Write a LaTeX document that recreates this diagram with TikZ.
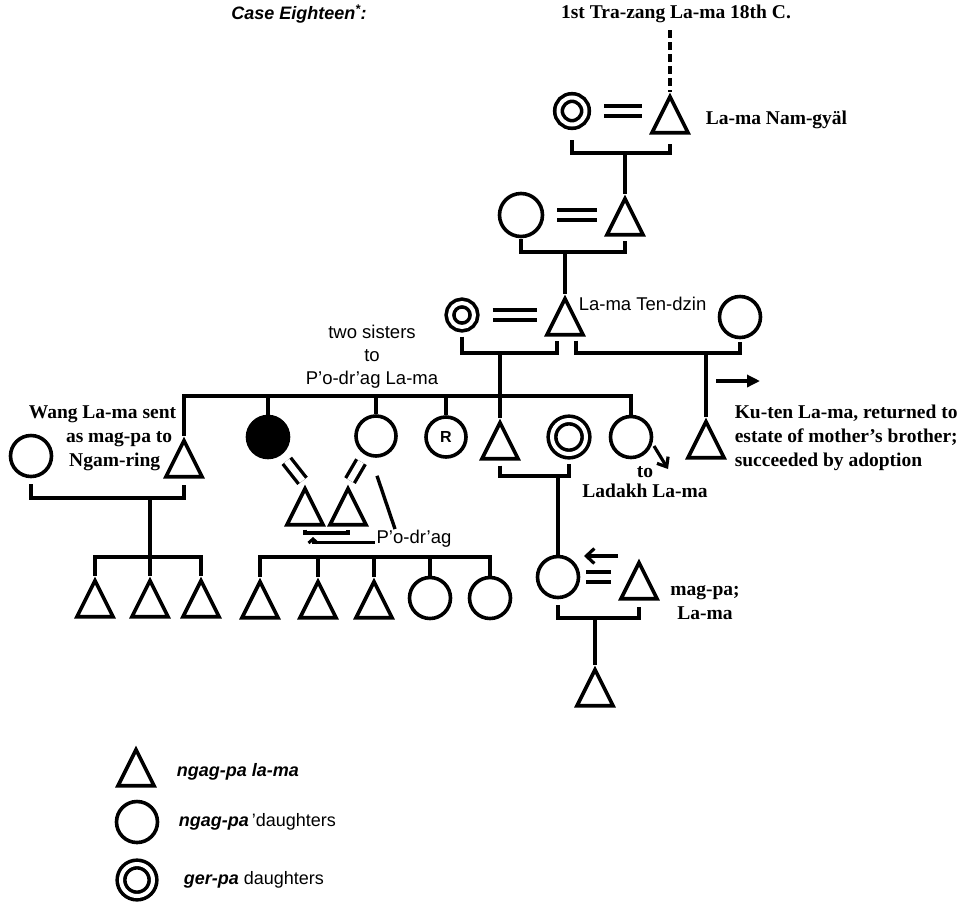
\documentclass[tikz,border=0pt]{standalone}
\usepackage{fontspec}
\setmainfont{Liberation Serif}
\setsansfont{Liberation Sans}
\usetikzlibrary{shapes.geometric,arrows.meta}

\tikzset{
  lama/.style={draw, isosceles triangle, shape border rotate=90,
    isosceles triangle stretches, minimum width=36pt, minimum height=36pt,
    inner sep=0pt, anchor=apex},
  dau/.style={draw, circle, minimum size=41pt, inner sep=0pt},
  gerdau/.style={draw, circle, double, double distance=4pt,
    minimum size=29pt, inner sep=0pt, outer sep=5.6pt},
  wed/.style={double, double distance=6.5pt, line width=3.8pt,
    shorten <=13pt, shorten >=13pt},
  lbl/.style={font=\fontsize{19.5}{24}\selectfont\bfseries, inner sep=0pt},
  sans/.style={font=\sffamily\fontsize{18.5}{23}\selectfont, inner sep=0pt},
  key/.style={font=\sffamily\fontsize{18}{20}\selectfont, anchor=west, inner sep=0pt},
}

\begin{document}
\begin{tikzpicture}[x=1pt, y=-1pt, line width=3.6pt]
\useasboundingbox (0,0) rectangle (973,903);

      % levels of the connecting lines
      \coordinate (lvA) at (0,153);
      \coordinate (lvB) at (0,252);
      \coordinate (lvC) at (0,353);
      \coordinate (sib) at (0,396);
      \coordinate (lvD) at (0,476);
      \coordinate (lvW) at (0,498);
      \coordinate (lvP) at (0,533);
      \coordinate (kids) at (0,557);
      \coordinate (lvE) at (0,618);

      % free ends of the arrows
      \coordinate (dashtop) at (670,30);
      \coordinate (kuA) at (716,381);
      \coordinate (kuB) at (760,381);
      \coordinate (ladA) at (654,446);
      \coordinate (ladB) at (668,469);
      \coordinate (heirA) at (618,556);
      \coordinate (heirB) at (584,556);

      % persons
      \node[gerdau, minimum size=27pt] (namwife) at (572,111) {};
      \node[lama] (namgyal) at (670,92) {};
      \node[dau, minimum size=43pt] (sonwife) at (521,215) {};
      \node[lama] (son) at (625,194) {};
      \node[gerdau, minimum size=24pt] (tdwifeA) at (462,315) {};
      \node[lama] (tendzin) at (565,294) {};
      \node[dau] (tdwifeB) at (740,317) {};

      \node[dau] (wangwife) at (31,456) {};
      \node[lama] (wang) at (184,436) {};
      \node[dau, fill=black] (sisA) at (268,437) {};
      \node[dau, minimum size=40pt] (sisB) at (376,436) {};
      \node[dau, minimum size=40pt, font=\sffamily\bfseries\fontsize{16}{16}\selectfont] (sisR) at (446,437) {R};
      \node[lama] (bro) at (500,418) {};
      \node[gerdau, minimum size=34pt] (gersis) at (569,437) {};
      \node[dau] (ladsis) at (631,437) {};
      \node[lama] (kuten) at (706,417) {};

      \node[lama] (podA) at (305,484) {};
      \node[lama] (podB) at (348,484) {};
      \node[dau] (heir) at (558,577) {};
      \node[lama] (magpa) at (639,558) {};
      \node[lama] (grandson) at (595,665) {};
      \foreach \x [count=\i] in {95,150,201}
        \node[lama] (wkid\i) at (\x,576) {};
      \foreach \x [count=\i] in {260,318,374}
        \node[lama] (pkid\i) at (\x,577) {};
      \foreach \x [count=\i] in {430,490}
        \node[dau] (pdau\i) at (\x,598) {};

      % marriages
      \draw[wed] (namwife.east) -- (namwife.east -| namgyal.west);
      \draw[wed] (sonwife.east) -- (sonwife.east -| son.west);
      \draw[wed] (tdwifeA.east) -- (tdwifeA.east -| tendzin.west);
      \draw[wed, shorten <=6pt] (heir.east) -- (heir.east -| magpa.west);
      \draw[wed, line width=3.4pt, shorten <=8pt, shorten >=4pt] (sisA) -- (podA.apex);
      \draw[wed, line width=3.4pt, shorten <=8pt, shorten >=4pt] (sisB) -- (podB.apex);
      \draw[line width=3.4pt] ([xshift=1pt,yshift=-18pt]sisB.south) -- (395,529);

      % brackets and lines of descent
      \draw[line width=3.4pt, dash pattern=on 8pt off 4pt] (dashtop) -- (namgyal.apex);
      \draw ([yshift=-10pt]namwife.south) -- (namwife.south |- lvA) -| ([yshift=-9pt]namgyal.south);
      \draw (son.apex) -- (son.apex |- lvA);
      \draw ([yshift=-1pt]sonwife.south) -- (sonwife.south |- lvB) -| ([yshift=-4pt]son.south);
      \draw (tendzin.apex) -- (tendzin.apex |- lvB);
      \draw ([yshift=-4pt]tdwifeA.south) -- (tdwifeA.south |- lvC) -| ([xshift=-8pt,yshift=-4pt]tendzin.south);
      \draw ([xshift=11pt,yshift=-4pt]tendzin.south) -- ([xshift=11pt]tendzin.south |- lvC) -| ([yshift=-3pt]tdwifeB.south);
      \draw (bro.apex) -- (bro.apex |- lvC);
      \draw (kuten.apex) -- (kuten.apex |- lvC);
      \draw (wang.apex) -- (wang.apex |- sib) -| (ladsis.north);
      \foreach \p in {sisA,sisB,sisR}
        \draw (\p.north) -- (\p.north |- sib);

      \draw ([yshift=-6pt]wangwife.south) -- (wangwife.south |- lvW) -| ([yshift=-6pt]wang.south);
      \draw (wkid2.apex) -- (wkid2.apex |- lvW);
      \draw (wkid1.apex) -- (wkid1.apex |- kids) -| (wkid3.apex);

      \draw ([yshift=-3pt]podA.south) -- (podA.south |- lvP) -| ([yshift=-3pt]podB.south);
      \draw (pkid1.apex) -- (pkid1.apex |- kids) -| (pdau2.north);
      \foreach \p in {pkid2.apex,pkid3.apex,pdau1.north}
        \draw (\p) -- (\p |- kids);

      \draw ([yshift=-5pt]bro.south) -- (bro.south |- lvD) -| ([yshift=-4pt]gersis.south);
      \draw (heir.north) -- (heir.north |- lvD);
      \draw ([yshift=-6pt]heir.south) -- (heir.south |- lvE) -| ([yshift=-6pt]magpa.south);
      \draw (grandson.apex) -- (grandson.apex |- lvE);

      % arrows
      \draw[-{Triangle[length=13pt,width=12pt]}, line width=3.8pt] (kuA) -- (kuB);
      \draw[-{Straight Barb[length=8pt,width=13pt]}, line width=3.2pt] (ladA) -- (ladB);
      \draw[-{Straight Barb[length=8pt,width=15pt]}, line width=3.2pt] (heirA) -- (heirB);

      % add labels
      \node[font=\sffamily\bfseries\itshape\fontsize{18}{20}\selectfont] (case) at (299,14) {Case Eighteen\textsuperscript{*}:};
      \node[lbl] (top) at (676,14) {1st Tra-zang La-ma 18th C.};
      \node[lbl, anchor=west] (namlbl) at (704,120) {La-ma Nam-gyäl};
      \node[sans, anchor=west] (tdlbl) at (577,304) {La-ma Ten-dzin};
      \node[sans, align=center] (sislbl) at (372,357) {two sisters\\to\\P'o-dr'ag La-ma};
      \node[lbl, align=right, anchor=east] (wanglbl) at (178,438) {Wang La-ma sent\\as mag-pa to\kern4pt\\Ngam-ring\kern16pt};
      \node[lbl, align=left, anchor=west] (kulbl) at (733,438) {Ku-ten La-ma, returned to\\estate of mother's brother;\\succeeded by adoption};
      \node[lbl, align=center, font=\fontsize{19.5}{20}\selectfont\bfseries] (ladlbl) at (645,482) {to\\Ladakh La-ma};
      \node[sans] (podlbl) at (414,539) {P'o-dr'ag};
      \node[lbl, align=center] (maglbl) at (705,603) {mag-pa;\\La-ma};
      \draw[-{Straight Barb[length=4pt,width=9pt]}, line width=3pt] ([yshift=-3pt]podlbl.west) -| ([xshift=8pt,yshift=-4pt]podA.south |- lvP);

      % key
      \node[lama] (keyM) at (136,745) {};
      \node[dau] (keyF) at (137,822) {};
      \node[gerdau, minimum size=32pt] (keyG) at (137,880) {};
      \node[key] (keyMlbl) at (175,772) {\bfseries\itshape ngag-pa la-ma};
      \node[key] (keyFlbl) at (177,822) {{\bfseries\itshape ngag-pa}\,'daughters};
      \node[key] (keyGlbl) at (182,880) {{\bfseries\itshape ger-pa} daughters};
\end{tikzpicture}
\end{document}
